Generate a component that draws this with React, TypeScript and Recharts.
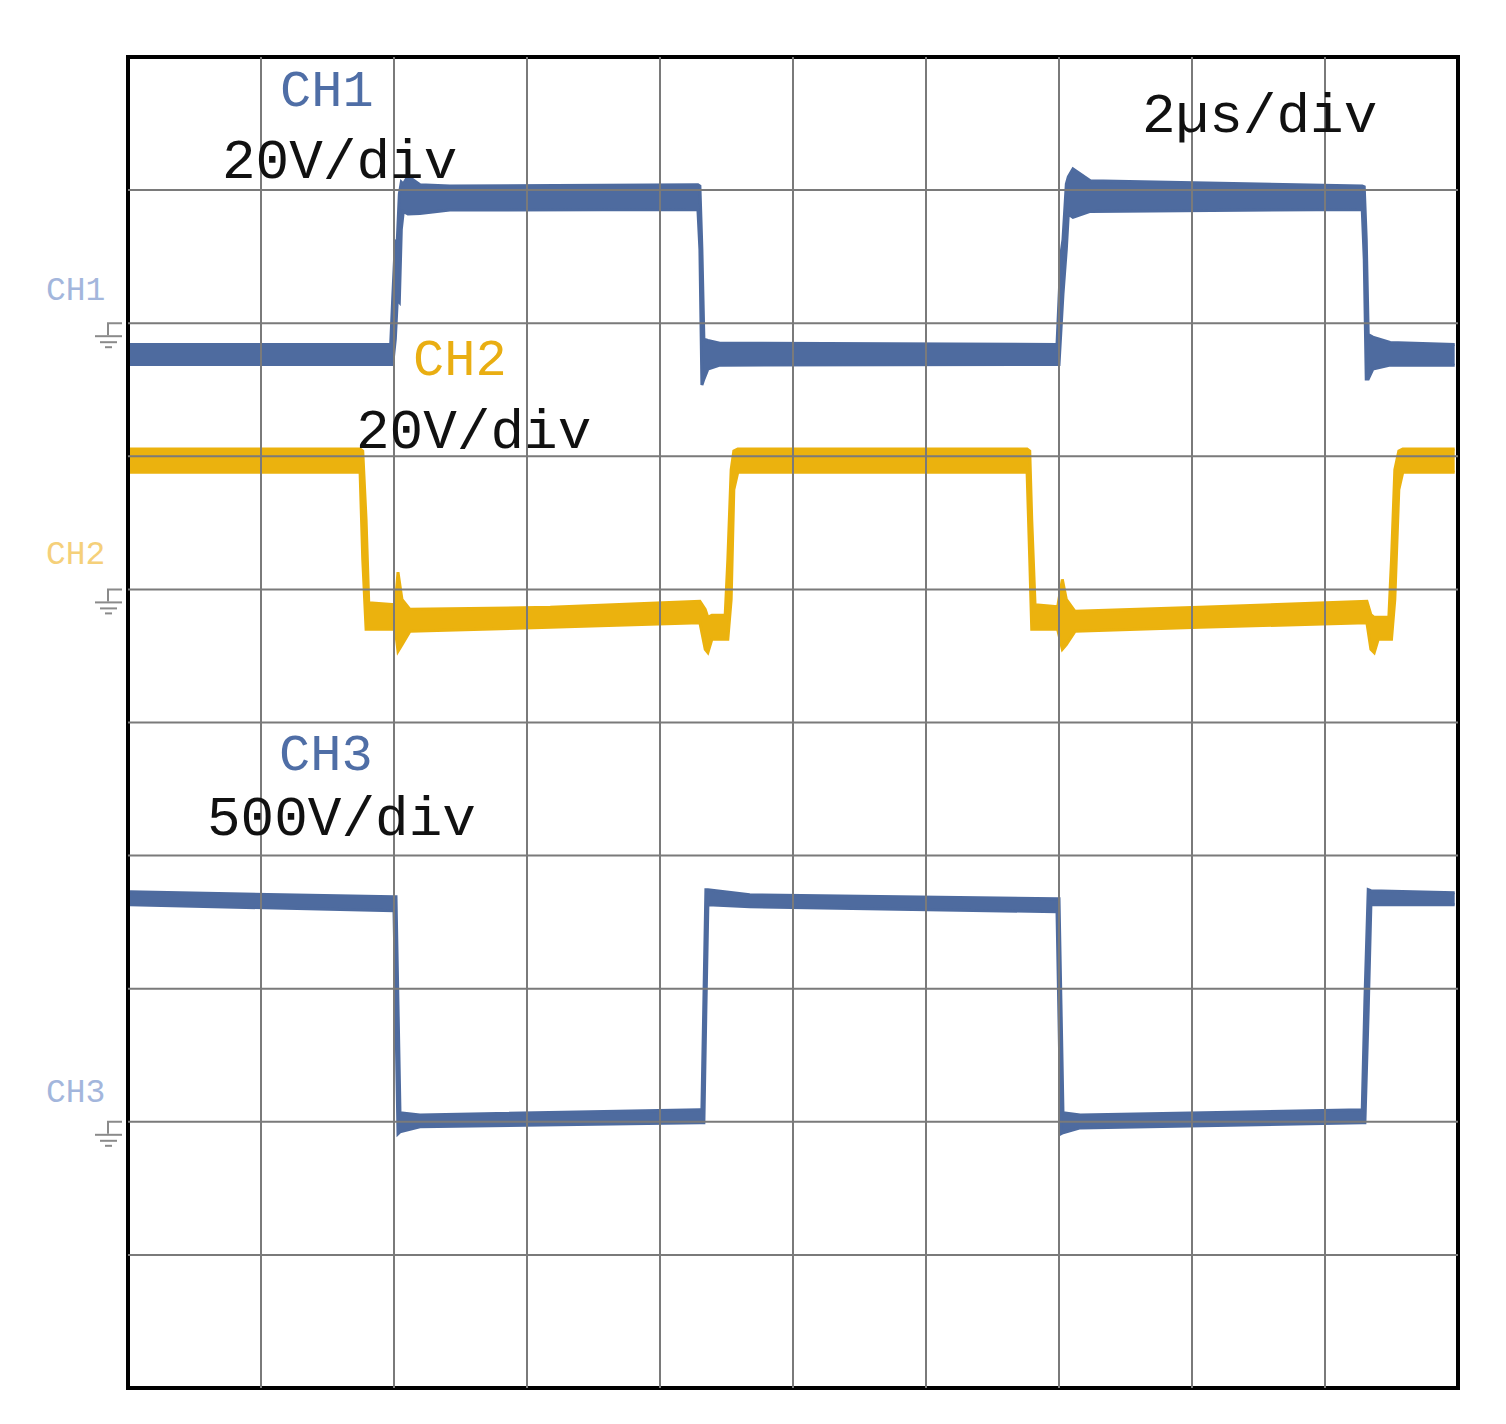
import React from 'react'
import { Area, ComposedChart, ReferenceArea, ReferenceDot, ReferenceLine, XAxis, YAxis } from 'recharts'

// time base: 2 µs/div, 10 divs
const gridX = [2, 4, 6, 8, 10, 12, 14, 16, 18]
const gridY = [1, 2, 3, 4, 5, 6, 7, 8, 9]

// CH1 (20V/div) - envelope of the noisy trace, volts
const ch1Time = [0.03, 3.95, 3.98, 4.02, 4.05, 4.08, 4.11, 4.14, 4.21, 4.39, 4.84, 8.57, 8.6, 8.63, 8.66, 8.72, 8.9, 13.97, 14.0, 14.03, 14.06, 14.11, 14.14, 14.21, 14.47, 18.56, 18.59, 18.62, 18.65, 18.72, 18.98, 19.95]
const ch1Hi = [-3.2, -3.2, 3.6, 12.2, 12.6, 19.4, 21.2, 20.9, 22.1, 20.8, 20.6, 20.8, 20.6, 11.1, -2.4, -2.6, -3.0, -3.2, 3.6, 10.4, 12.6, 20.9, 22.0, 23.2, 21.4, 20.6, 20.5, 12.6, -1.7, -2.1, -2.9, -3.2]
const ch1Lo = [-6.2, -6.2, -6.2, -2.4, 3.6, 3.2, 14.1, 16.8, 16.4, 16.5, 17.0, 17.1, 11.1, -9.3, -8.4, -6.9, -6.3, -6.2, -6.2, -0.9, 4.4, 11.1, 16.4, 15.9, 16.8, 17.1, 9.6, -8.4, -8.4, -6.9, -6.3, -6.3]

// CH2 (20V/div)
const ch2Time = [0.03, 3.49, 3.53, 3.58, 3.62, 4.02, 4.06, 4.12, 4.24, 6.35, 8.6, 8.68, 8.72, 8.78, 8.98, 9.02, 9.07, 9.11, 9.17, 13.52, 13.56, 13.59, 13.64, 13.98, 14.05, 14.11, 14.24, 16.12, 18.63, 18.69, 18.74, 18.8, 18.96, 19.0, 19.05, 19.11, 19.17, 19.95]
const ch2Hi = [21.1, 21.1, 20.8, 10.5, -2.0, -2.3, 2.6, -1.5, -3.0, -2.7, -1.8, -3.0, -4.2, -3.9, -3.9, 4.5, 18.0, 20.8, 21.1, 21.1, 20.8, 10.5, -2.3, -2.6, 1.5, -1.5, -3.3, -2.7, -1.8, -3.8, -4.2, -4.2, -4.2, 4.5, 18.0, 20.8, 21.1, 21.1]
const ch2Lo = [17.6, 17.6, 4.5, -6.0, -6.0, -6.0, -9.3, -8.3, -6.3, -5.7, -5.0, -9.0, -9.5, -7.5, -7.5, -7.5, -1.5, 15.0, 17.6, 17.6, 4.5, -6.0, -6.0, -6.0, -9.0, -8.3, -6.3, -5.7, -5.0, -9.0, -9.5, -7.5, -7.5, -7.5, -1.5, 15.0, 17.6, 17.6]

// CH3 (500V/div)
const ch3Time = [0.03, 4.0, 4.03, 4.06, 4.09, 4.39, 8.6, 8.63, 8.66, 8.69, 8.72, 9.35, 13.97, 14.0, 14.03, 14.06, 14.32, 18.56, 18.6, 18.65, 18.69, 19.95]
const ch3Hi = [864, 845, 845, 440, 34, 26, 45, 45, 458, 872, 872, 853, 838, 838, 440, 34, 26, 45, 458, 872, 868, 860]
const ch3Lo = [815, 793, 383, -45, -38, -19, -4, -4, -4, 421, 815, 808, 789, 383, -45, -41, -23, -4, -4, 421, 815, 815]

const channels = [
  { name: 'CH3', time: ch3Time, hi: ch3Hi, lo: ch3Lo, ground: 2, perDiv: 500, color: '#4e6b9f' },
  { name: 'CH2', time: ch2Time, hi: ch2Hi, lo: ch2Lo, ground: 6, perDiv: 20, color: '#ebb20e' },
  { name: 'CH1', time: ch1Time, hi: ch1Hi, lo: ch1Lo, ground: 8, perDiv: 20, color: '#4e6b9f' },
]

const W = 1490
const H = 1410
const FONT = '"Liberation Mono", "DejaVu Sans Mono", monospace'

const labels = [
  { text: 'CH1', x: 272, y: 98, size: 52, color: '#4f6ea6' },
  { text: '20V/div', x: 214, y: 170, size: 56, color: '#111' },
  { text: '2µs/div', x: 1134, y: 124, size: 56, color: '#111' },
  { text: 'CH2', x: 405, y: 367, size: 52, color: '#e9ae12' },
  { text: '20V/div', x: 348, y: 440, size: 56, color: '#111' },
  { text: 'CH3', x: 271, y: 762, size: 52, color: '#4f6ea6' },
  { text: '500V/div', x: 199, y: 827, size: 56, color: '#111' },
  { text: 'CH1', x: 38, y: 292, size: 33, color: '#a3b6dc' },
  { text: 'CH2', x: 38, y: 556, size: 33, color: '#f5d07a' },
  { text: 'CH3', x: 38, y: 1094, size: 33, color: '#a3b6dc' },
]

const GroundMark = (props: any) => {
  const { cx, cy } = props
  return (
    <g stroke="#8a8a8a" strokeWidth={2} fill="none">
      <path d={`M${cx - 6},${cy} H${cx - 20} V${cy + 12}`} />
      <path d={`M${cx - 33},${cy + 13} H${cx - 6}`} />
      <path d={`M${cx - 28},${cy + 19} H${cx - 11}`} />
      <path d={`M${cx - 23},${cy + 24} H${cx - 16}`} />
    </g>
  )
}

export default function App() {
  const series = channels.map((c) => ({
    ...c,
    rows: c.time.map((t, i) => ({
      t,
      lo: c.ground + c.lo[i] / c.perDiv,
      hi: c.ground + c.hi[i] / c.perDiv,
    })),
  }))

  return (
    <div style={{ position: 'relative', width: W, height: H }}>
      <ComposedChart width={W} height={H} margin={{ top: 49, right: 40, left: 120, bottom: 30 }}>
        <XAxis type="number" dataKey="t" domain={[0, 20]} allowDataOverflow hide />
        <YAxis type="number" domain={[0, 10]} allowDataOverflow hide />
        {gridX.map((v) => (
          <ReferenceLine key={'gx' + v} x={v} stroke="#7a7a7a" strokeWidth={2} />
        ))}
        {gridY.map((v) => (
          <ReferenceLine key={'gy' + v} y={v} stroke="#7a7a7a" strokeWidth={2} />
        ))}
        {series.map((s) => (
          <Area
            key={s.name}
            data={s.rows}
            dataKey={(d: any) => [d.lo, d.hi]}
            type="linear"
            stroke={s.color}
            strokeWidth={3}
            fill={s.color}
            fillOpacity={1}
            dot={false}
            activeDot={false}
            isAnimationActive={false}
          />
        ))}
        <ReferenceArea x1={0} x2={20} y1={0} y2={10} fill="none" stroke="#000" strokeWidth={4} />
        {channels.map((c) => (
          <ReferenceDot key={'g' + c.name} x={0} y={c.ground} r={0} ifOverflow="visible" shape={GroundMark} />
        ))}
      </ComposedChart>
      <svg width={W} height={H} style={{ position: 'absolute', left: 0, top: 0, pointerEvents: 'none' }}>
        {labels.map((l, i) => (
          <text key={i} x={l.x} y={l.y} fontSize={l.size} fill={l.color} fontFamily={FONT}>
            {l.text}
          </text>
        ))}
      </svg>
    </div>
  )
}
